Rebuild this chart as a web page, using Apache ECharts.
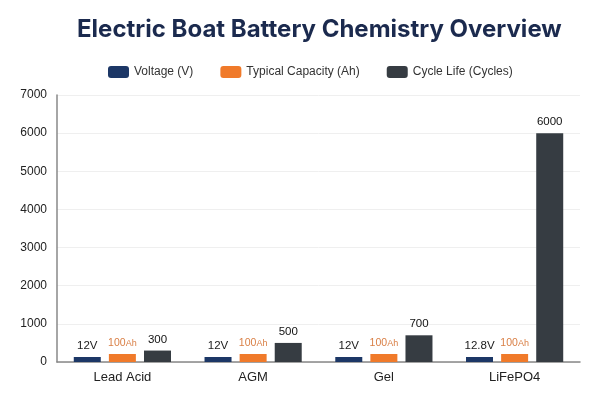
<!DOCTYPE html>
<html>
<head>
<meta charset="utf-8">
<script src="https://cdn.jsdelivr.net/npm/echarts@6/dist/echarts.min.js"></script>
<style>html,body{margin:0;padding:0;background:#fff;}#c{width:600px;height:400px;}</style>
</head>
<body>
<div id="c"></div>
<script>
const categories = ['Lead Acid', 'AGM', 'Gel', 'LiFePO4'];
const voltage = [12, 12, 12, 12.8];
const capacity = [100, 100, 100, 100];
const cycleLife = [300, 500, 700, 6000];
const yTicks = [0, 1000, 2000, 3000, 4000, 5000, 6000, 7000];

const chart = echarts.init(document.getElementById('c'));
const font = 'Liberation Sans';
chart.setOption({
  animation: false,
  backgroundColor: '#fff',
  title: {
    text: 'Electric Boat Battery Chemistry Overview',
    left: 72, top: 13,
    textStyle: { fontFamily: 'Inter', fontWeight: 'bold', fontSize: 24, color: '#1b2a4e' }
  },
  legend: {
    left: 103, top: 61,
    itemWidth: 21, itemHeight: 12, itemGap: 27,
    textStyle: { fontFamily: font, fontSize: 12, color: '#333' },
    data: ['Voltage (V)', 'Typical Capacity (Ah)', 'Cycle Life (Cycles)']
  },
  grid: { left: 57, right: 20, top: 95, bottom: 38 },
  xAxis: {
    type: 'category',
    data: categories,
    axisLine: { lineStyle: { color: '#888', width: 1.5 } },
    axisTick: { show: false },
    axisLabel: { fontFamily: font, fontSize: 13, color: '#222', margin: 9 }
  },
  yAxis: {
    type: 'value',
    min: yTicks[0], max: yTicks[yTicks.length - 1], interval: 1000,
    axisLine: { show: true, lineStyle: { color: '#888', width: 1.5 } },
    axisTick: { show: false },
    axisLabel: { fontFamily: font, fontSize: 12, color: '#222', margin: 10,
      formatter: v => String(v) },
    splitLine: { lineStyle: { color: '#efefef', width: 1 } }
  },
  series: [
    {
      name: 'Voltage (V)', type: 'bar', data: voltage,
      barWidth: 27, barGap: '30%', barMinHeight: 5,
      itemStyle: { color: '#1c3766' },
      label: { show: true, position: 'top', distance: 5,
        formatter: p => p.value + 'V',
        fontFamily: font, fontSize: 11.5, color: '#1a1a1a' }
    },
    {
      name: 'Typical Capacity (Ah)', type: 'bar', data: capacity,
      barWidth: 27, barMinHeight: 8,
      itemStyle: { color: '#f07a2a' },
      label: { show: true, position: 'top', distance: 5,
        formatter: p => '{a|' + p.value + '}{b|Ah}',
        rich: {
          a: { fontFamily: font, fontSize: 10.5, color: '#d97f45' },
          b: { fontFamily: font, fontSize: 9, color: '#d97f45' }
        } }
    },
    {
      name: 'Cycle Life (Cycles)', type: 'bar', data: cycleLife,
      barWidth: 27,
      itemStyle: { color: '#363c42' },
      label: { show: true, position: 'top', distance: 5,
        fontFamily: font, fontSize: 11.5, color: '#111' }
    }
  ]
});
</script>
</body>
</html>
